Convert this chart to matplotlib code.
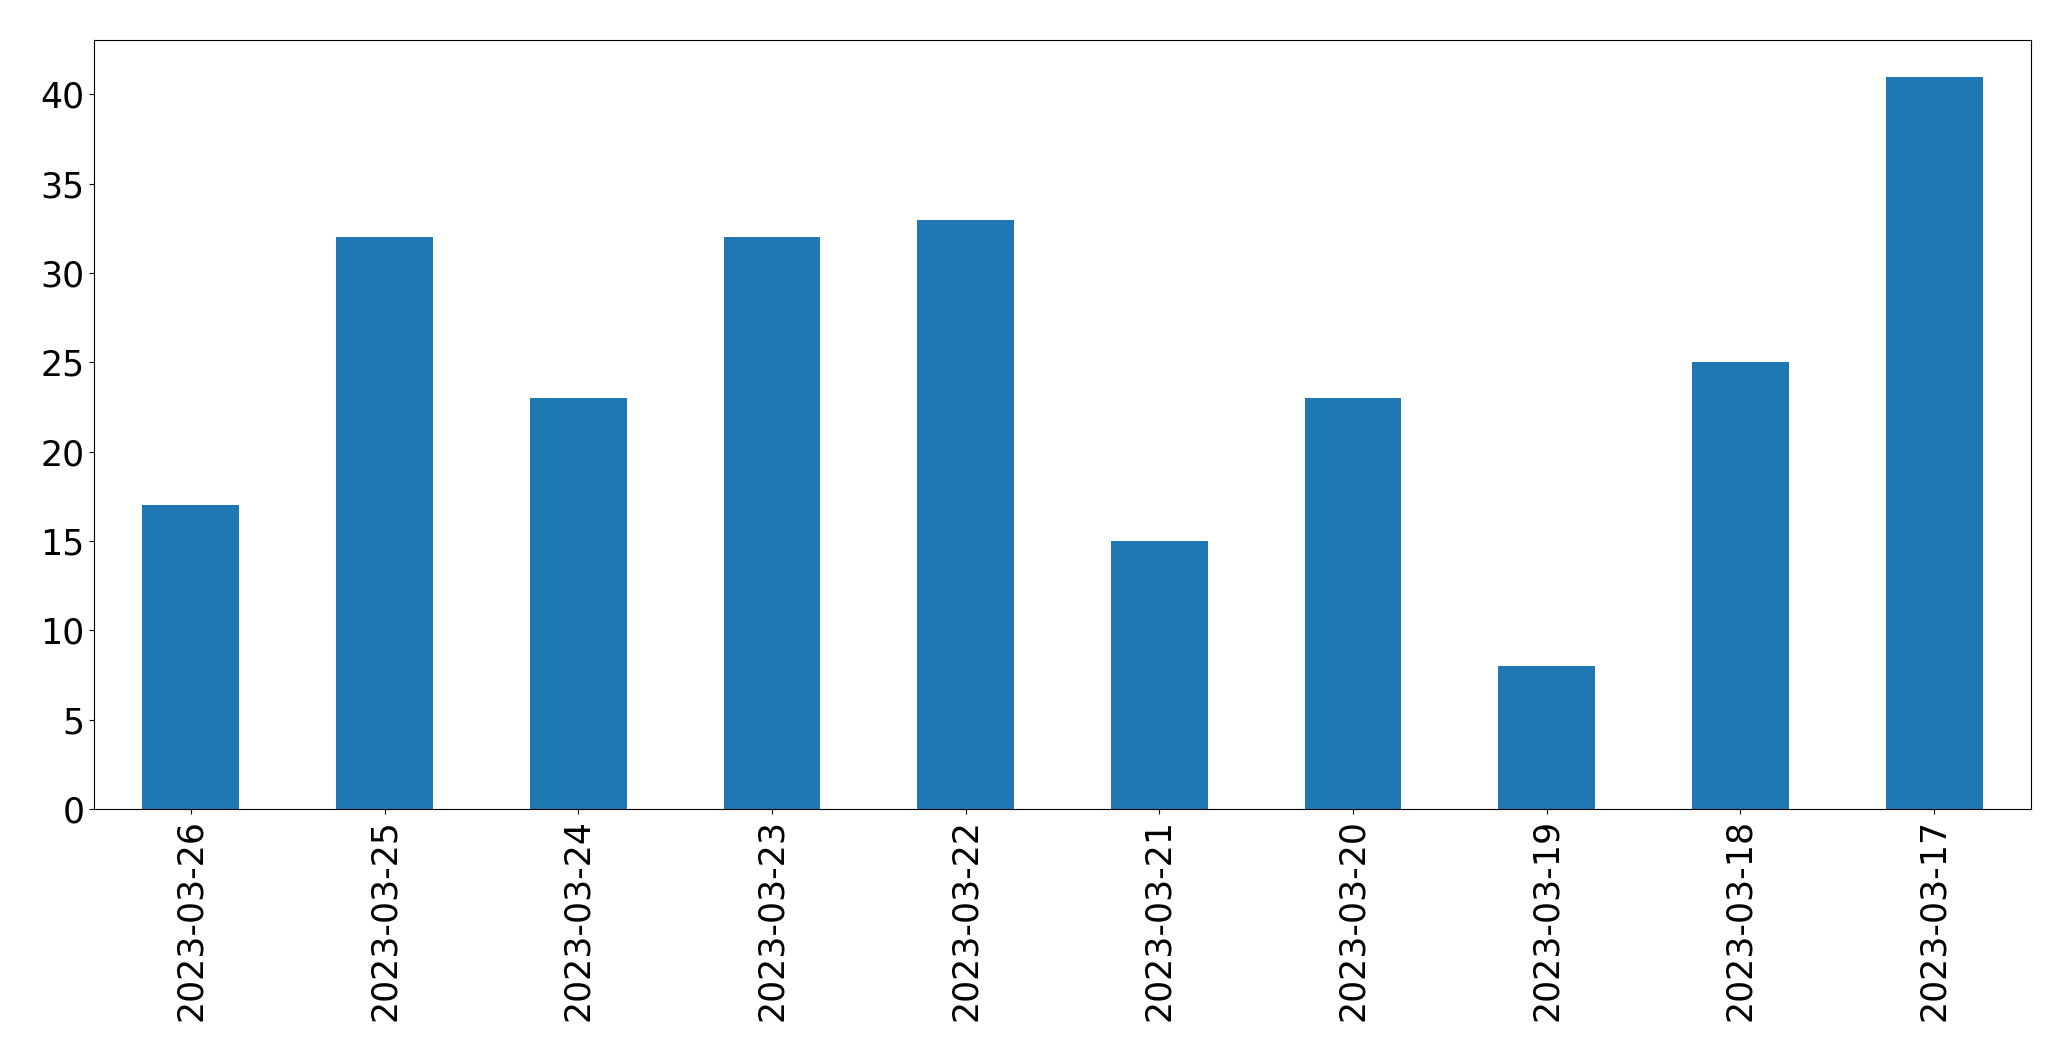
import matplotlib
matplotlib.use('Agg')
import matplotlib.pyplot as plt

dates = ['2023-03-26', '2023-03-25', '2023-03-24', '2023-03-23', '2023-03-22',
         '2023-03-21', '2023-03-20', '2023-03-19', '2023-03-18', '2023-03-17']
counts = [17, 32, 23, 32, 33, 15, 23, 8, 25, 41]

fig = plt.figure(figsize=(20.71, 10.61), dpi=100)
ax = fig.add_axes([94 / 2071, 1 - 809 / 1061, (2031 - 94) / 2071, (809 - 40) / 1061])

x = range(len(dates))
ax.bar(x, counts, width=0.5, color='#1f77b4')
ax.set_xlim(-0.5, len(dates) - 0.5)
ax.set_xticks(list(x))
ax.set_xticklabels(dates, rotation=90)
ax.tick_params(axis='both', labelsize=25)

plt.savefig('out.png', dpi=100)
